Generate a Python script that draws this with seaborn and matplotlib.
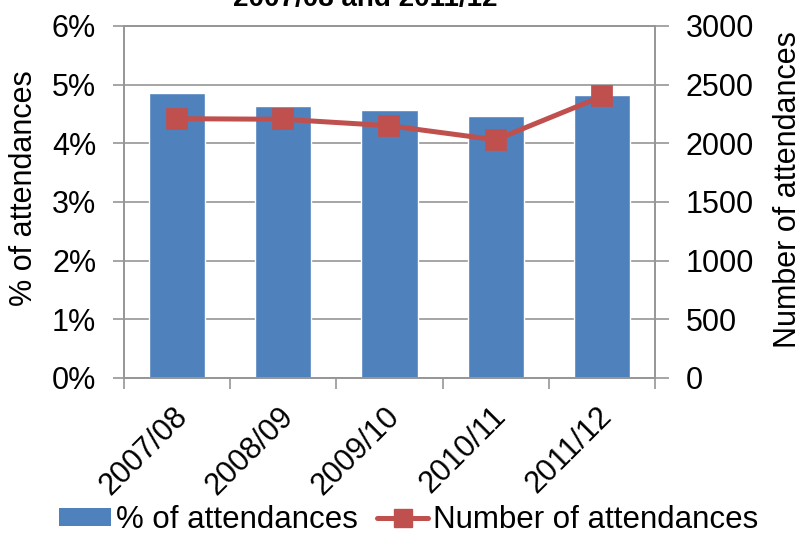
import numpy as np
import pandas as pd
import matplotlib
matplotlib.use('Agg')
import matplotlib.pyplot as plt
from matplotlib.ticker import FixedLocator, FuncFormatter
from matplotlib.transforms import ScaledTranslation
from matplotlib.lines import Line2D
from matplotlib.patches import Patch
import seaborn as sns

# 数据
years = ['2007/08', '2008/09', '2009/10', '2010/11', '2011/12']
pct_attend = [4.86, 4.63, 4.57, 4.46, 4.83]
num_attend = [2210, 2205, 2150, 2030, 2400]

bar_color = '#4F81BD'
line_color = '#C0504D'
grid_color = '#969696'

sns.set_theme(style='white')
plt.rcParams['font.family'] = ['Liberation Sans', 'DejaVu Sans']
plt.rcParams.update({
    'text.color': 'black',
    'axes.labelcolor': 'black',
    'xtick.labelcolor': 'black',
    'ytick.labelcolor': 'black',
})

df = pd.DataFrame({'year': years, 'pct': pct_attend, 'num': num_attend})

fig = plt.figure(figsize=(8.02, 5.36), dpi=100)
ax = fig.add_axes([0.1546, 0.2948, 0.6621, 0.6567])

sns.barplot(data=df, x='year', y='pct', color=bar_color, saturation=1,
            width=0.53, ax=ax, zorder=2)
ax.set_ylim(0, 6)
ax.set_xlim(-0.5, len(years) - 0.5)
ax.set_yticks(range(0, 7))
ax.yaxis.set_major_formatter(FuncFormatter(lambda v, p: f'{int(v)}%'))
ax.grid(axis='y', color=grid_color, linewidth=1.2, zorder=0)
ax.set_axisbelow(True)
ax.set_xlabel('')
ax.set_ylabel('% of attendances', fontsize=22)
ax.yaxis.set_label_coords(-0.16, 0.54)

# 类别之间的刻度线
ax.xaxis.set_minor_locator(FixedLocator(np.arange(-0.5, len(years), 1)))
ax.tick_params(axis='x', which='major', length=0, labelsize=22, pad=17)
ax.tick_params(axis='x', which='minor', length=8, color=grid_color, width=1.2,
               direction='out', bottom=True)
ax.tick_params(axis='y', length=8, color=grid_color, width=1.2, direction='out',
               left=True, labelsize=22, pad=12)
shift = ScaledTranslation(-0.05, 0, fig.dpi_scale_trans)
for lab in ax.get_xticklabels():
    lab.set_rotation(45)
    lab.set_ha('right')
    lab.set_va('top')
    lab.set_rotation_mode('anchor')
    lab.set_transform(lab.get_transform() + shift)

for s in ax.spines.values():
    s.set_color(grid_color)
    s.set_linewidth(1.2)

# 右轴：人数
ax2 = ax.twinx()
sns.pointplot(data=df, x='year', y='num', color=line_color, markers='s',
              linestyles='-', ax=ax2, markersize=13, linewidth=3.6)
ax2.set_ylim(0, 3000)
ax2.set_xlim(-0.5, len(years) - 0.5)
ax2.set_yticks(range(0, 3001, 500))
ax2.set_ylabel('Number of attendances', fontsize=22)
ax2.yaxis.set_label_coords(1.222, 0.534)
ax2.set_xlabel('')
ax2.tick_params(axis='y', length=10, color=grid_color, width=1.2, direction='out',
                right=True, labelsize=22, pad=12)
for s in ax2.spines.values():
    s.set_color(grid_color)
    s.set_linewidth(1.2)

# 图例
handles = [Patch(facecolor=bar_color, edgecolor='none'),
           Line2D([0], [0], color=line_color, marker='s', markersize=13,
                  linewidth=3.6)]
fig.legend(handles, ['% of attendances', 'Number of attendances'],
           loc='center', bbox_to_anchor=(0.51, 0.03), ncol=2, frameon=False,
           fontsize=22.5, handlelength=1.64, handleheight=0.5,
           handletextpad=0.16, columnspacing=0.63, borderpad=0, borderaxespad=0)

# 标题（顶部被截断）
fig.text(0.455, 0.989, '2007/08 and 2011/12', ha='center', va='baseline',
         fontsize=20, fontweight='bold')

fig.savefig('out.png', dpi=100)
